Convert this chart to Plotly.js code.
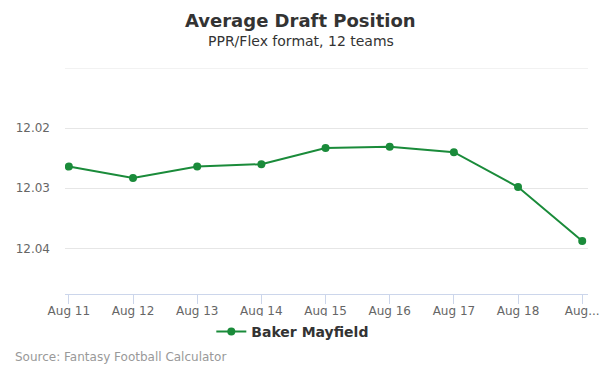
<!DOCTYPE html>
<html><head><meta charset="utf-8">
<script src="https://cdn.plot.ly/plotly-3.0.1.min.js"></script>
<style>html,body{margin:0;padding:0;background:#fff}#chart{width:600px;height:375px}</style>
</head><body><div id="chart"></div>
<script>
const categories = ["Aug 11","Aug 12","Aug 13","Aug 14","Aug 15","Aug 16","Aug 17","Aug 18","Aug 19"];
const tickLabels = ["Aug 11","Aug 12","Aug 13","Aug 14","Aug 15","Aug 16","Aug 17","Aug 18","Aug..."];
const adpValues = [12.0264,12.0283,12.0264,12.0260,12.0233,12.0231,12.0240,12.0298,12.0388];
const yTickVals = [12.01,12.02,12.03,12.04];
const yTickText = ["","12.02","12.03","12.04"];
const seriesName = "Baker Mayfield";
const xIdx = categories.map((c,i)=>i);
const green = "#1a8b3a";
const F = "DejaVu Sans, sans-serif";

Plotly.newPlot("chart", [{
  x: xIdx, y: adpValues, type: "scatter", mode: "lines+markers", name: seriesName,
  line: {color: green, width: 2}, marker: {color: green, size: 8},
  text: categories, hoverinfo: "text+y"
}], {
  width: 600, height: 375,
  margin: {l: 65, r: 12, t: 68, b: 81},
  paper_bgcolor: "#fff", plot_bgcolor: "#fff",
  font: {family: F, color: "#666"},
  showlegend: true,
  legend: {orientation: "h", x: 0.4356, xanchor: "center", y: -0.168, yanchor: "middle",
           font: {family: F, size: 14, color: "#333", weight: "bold"}, itemwidth: 30},
  xaxis: {range: [-0.06, 8.09], tickvals: xIdx, ticktext: tickLabels, showgrid: false, zeroline: false,
          showline: true, linecolor: "#ccd6eb", linewidth: 1, ticks: "outside", ticklen: 9, tickcolor: "#ccd6eb",
          ticklabelstandoff: -3,
          tickfont: {family: F, size: 12, color: "#666"}, fixedrange: true},
  yaxis: {range: [12.0476, 12.01], tickvals: yTickVals, ticktext: yTickText, showgrid: true, gridcolor: "#e6e6e6",
          zeroline: false, showline: false, ticks: "", ticklabelstandoff: 14,
          tickfont: {family: F, size: 12, color: "#666"}, fixedrange: true},
  shapes: [
    {type: "line", xref: "paper", x0: 0, x1: 1, yref: "y", y0: yTickVals[0], y1: yTickVals[0],
     line: {color: "#e6e6e6", width: 1}, layer: "below"}
  ],
  annotations: [
    {text: "<b>Average Draft Position</b>", xref: "paper", yref: "paper", x: 0.5, xanchor: "center", xshift: -26,
     y: 1, yanchor: "middle", yshift: 48, showarrow: false, font: {family: F, size: 18, color: "#333"}},
    {text: "PPR/Flex format, 12 teams", xref: "paper", yref: "paper", x: 0.5, xanchor: "center", xshift: -26,
     y: 1, yanchor: "middle", yshift: 27, showarrow: false, font: {family: F, size: 14, color: "#333"}},
    {text: "Source: Fantasy Football Calculator", xref: "paper", yref: "paper", x: 0, xanchor: "left",
     xshift: -52, y: 0, yanchor: "middle", yshift: -63, showarrow: false, font: {family: F, size: 12, color: "#999"}}
  ]
}, {displayModeBar: false, staticPlot: true});
</script></body></html>
